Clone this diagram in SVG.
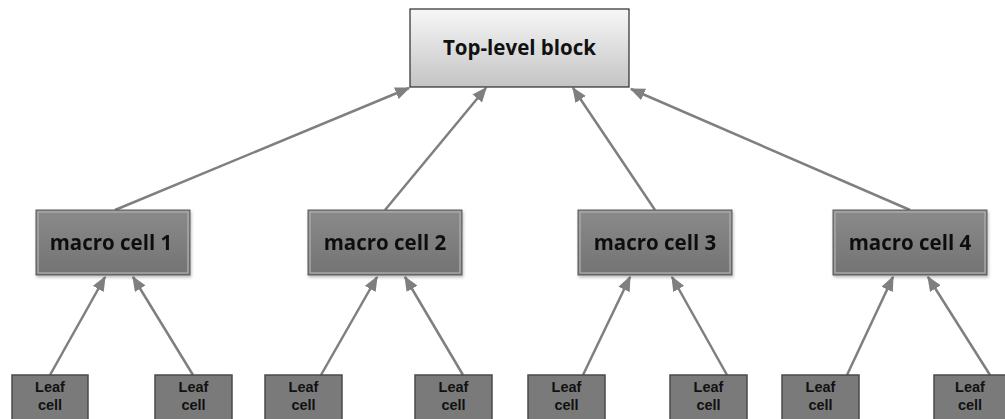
<svg xmlns="http://www.w3.org/2000/svg" width="1005" height="419" viewBox="0 0 1005 419">
<defs>
<linearGradient id="gTop" x1="0" y1="0" x2="0" y2="1">
<stop offset="0" stop-color="#f7f7f7"/>
<stop offset="1" stop-color="#c4c4c4"/>
</linearGradient>
<linearGradient id="gMacro" x1="0" y1="0" x2="0" y2="1">
<stop offset="0" stop-color="#8a8a8a"/>
<stop offset="1" stop-color="#737373"/>
</linearGradient>
<marker id="ah" markerWidth="6" markerHeight="5" refX="5.5" refY="2.5" orient="auto" markerUnits="strokeWidth">
<path d="M0,0 L6,2.5 L0,5 Z" fill="#7f7f7f"/>
</marker>
<filter id="sh" x="-10%" y="-10%" width="130%" height="140%">
<feDropShadow dx="1" dy="2" stdDeviation="1.5" flood-color="#000" flood-opacity="0.25"/>
</filter>
</defs>
<style>
.top{fill:url(#gTop);stroke:#2a2a2a;stroke-width:1.2}
.macro{fill:url(#gMacro);stroke:#5a5a5a;stroke-width:1}
.bevel{fill:none;stroke:#a8a8a8;stroke-width:1.5}
.leaf{fill:#7a7a7a;stroke:#4a4a4a;stroke-width:1.5}
.t{font-family:"Open Sans","Liberation Sans",sans-serif;font-weight:bold;fill:#111;text-anchor:middle}
.lt{font-family:"Liberation Sans",Arial,sans-serif;font-size:14.5px}
.conn line{stroke:#7f7f7f;stroke-width:2.5;marker-end:url(#ah)}
</style>
<g id="connectors" class="conn">
<line x1="115" y1="210" x2="409" y2="88"/>
<line x1="385" y1="210" x2="486" y2="88"/>
<line x1="655" y1="210" x2="573" y2="88"/>
<line x1="910" y1="210" x2="631" y2="89"/>
<line x1="50" y1="375" x2="105" y2="277"/>
<line x1="193" y1="375" x2="133" y2="277"/>
<line x1="321" y1="375" x2="377" y2="277"/>
<line x1="463" y1="375" x2="405" y2="277"/>
<line x1="583" y1="375" x2="630" y2="277"/>
<line x1="727" y1="375" x2="672" y2="277"/>
<line x1="847" y1="375" x2="893" y2="277"/>
<line x1="990" y1="375" x2="928" y2="277"/>
</g>
<g id="top">
<rect class="top" x="410" y="9" width="219" height="78"/>
<text class="t" x="519.5" y="55" font-size="20.5">Top-level block</text>
</g>
<g id="macro1" filter="url(#sh)">
<rect class="macro" x="36" y="210" width="154" height="65"/>
<rect class="bevel" x="38" y="212" width="150" height="61"/>
<text class="t" x="111" y="250" font-size="20.5">macro cell 1</text>
</g>
<g id="macro2" filter="url(#sh)">
<rect class="macro" x="308" y="210" width="154" height="65"/>
<rect class="bevel" x="310" y="212" width="150" height="61"/>
<text class="t" x="385" y="250" font-size="20.5">macro cell 2</text>
</g>
<g id="macro3" filter="url(#sh)">
<rect class="macro" x="578" y="210" width="154" height="65"/>
<rect class="bevel" x="580" y="212" width="150" height="61"/>
<text class="t" x="655" y="250" font-size="20.5">macro cell 3</text>
</g>
<g id="macro4" filter="url(#sh)">
<rect class="macro" x="833" y="210" width="154" height="65"/>
<rect class="bevel" x="835" y="212" width="150" height="61"/>
<text class="t" x="910" y="250" font-size="20.5">macro cell 4</text>
</g>
<g id="leaf1"><rect class="leaf" x="12" y="375" width="76" height="50"/><text class="t lt" x="50" y="392">Leaf</text><text class="t lt" x="50" y="410">cell</text></g>
<g id="leaf2"><rect class="leaf" x="155" y="375" width="77" height="50"/><text class="t lt" x="193.5" y="392">Leaf</text><text class="t lt" x="193.5" y="410">cell</text></g>
<g id="leaf3"><rect class="leaf" x="265" y="375" width="77" height="50"/><text class="t lt" x="303.5" y="392">Leaf</text><text class="t lt" x="303.5" y="410">cell</text></g>
<g id="leaf4"><rect class="leaf" x="415" y="375" width="77" height="50"/><text class="t lt" x="453.5" y="392">Leaf</text><text class="t lt" x="453.5" y="410">cell</text></g>
<g id="leaf5"><rect class="leaf" x="528" y="375" width="77" height="50"/><text class="t lt" x="566.5" y="392">Leaf</text><text class="t lt" x="566.5" y="410">cell</text></g>
<g id="leaf6"><rect class="leaf" x="670" y="375" width="77" height="50"/><text class="t lt" x="708.5" y="392">Leaf</text><text class="t lt" x="708.5" y="410">cell</text></g>
<g id="leaf7"><rect class="leaf" x="782" y="375" width="77" height="50"/><text class="t lt" x="820.5" y="392">Leaf</text><text class="t lt" x="820.5" y="410">cell</text></g>
<g id="leaf8"><rect class="leaf" x="934" y="375" width="77" height="50"/><text class="t lt" x="970" y="392">Leaf</text><text class="t lt" x="970" y="410">cell</text></g>
</svg>
